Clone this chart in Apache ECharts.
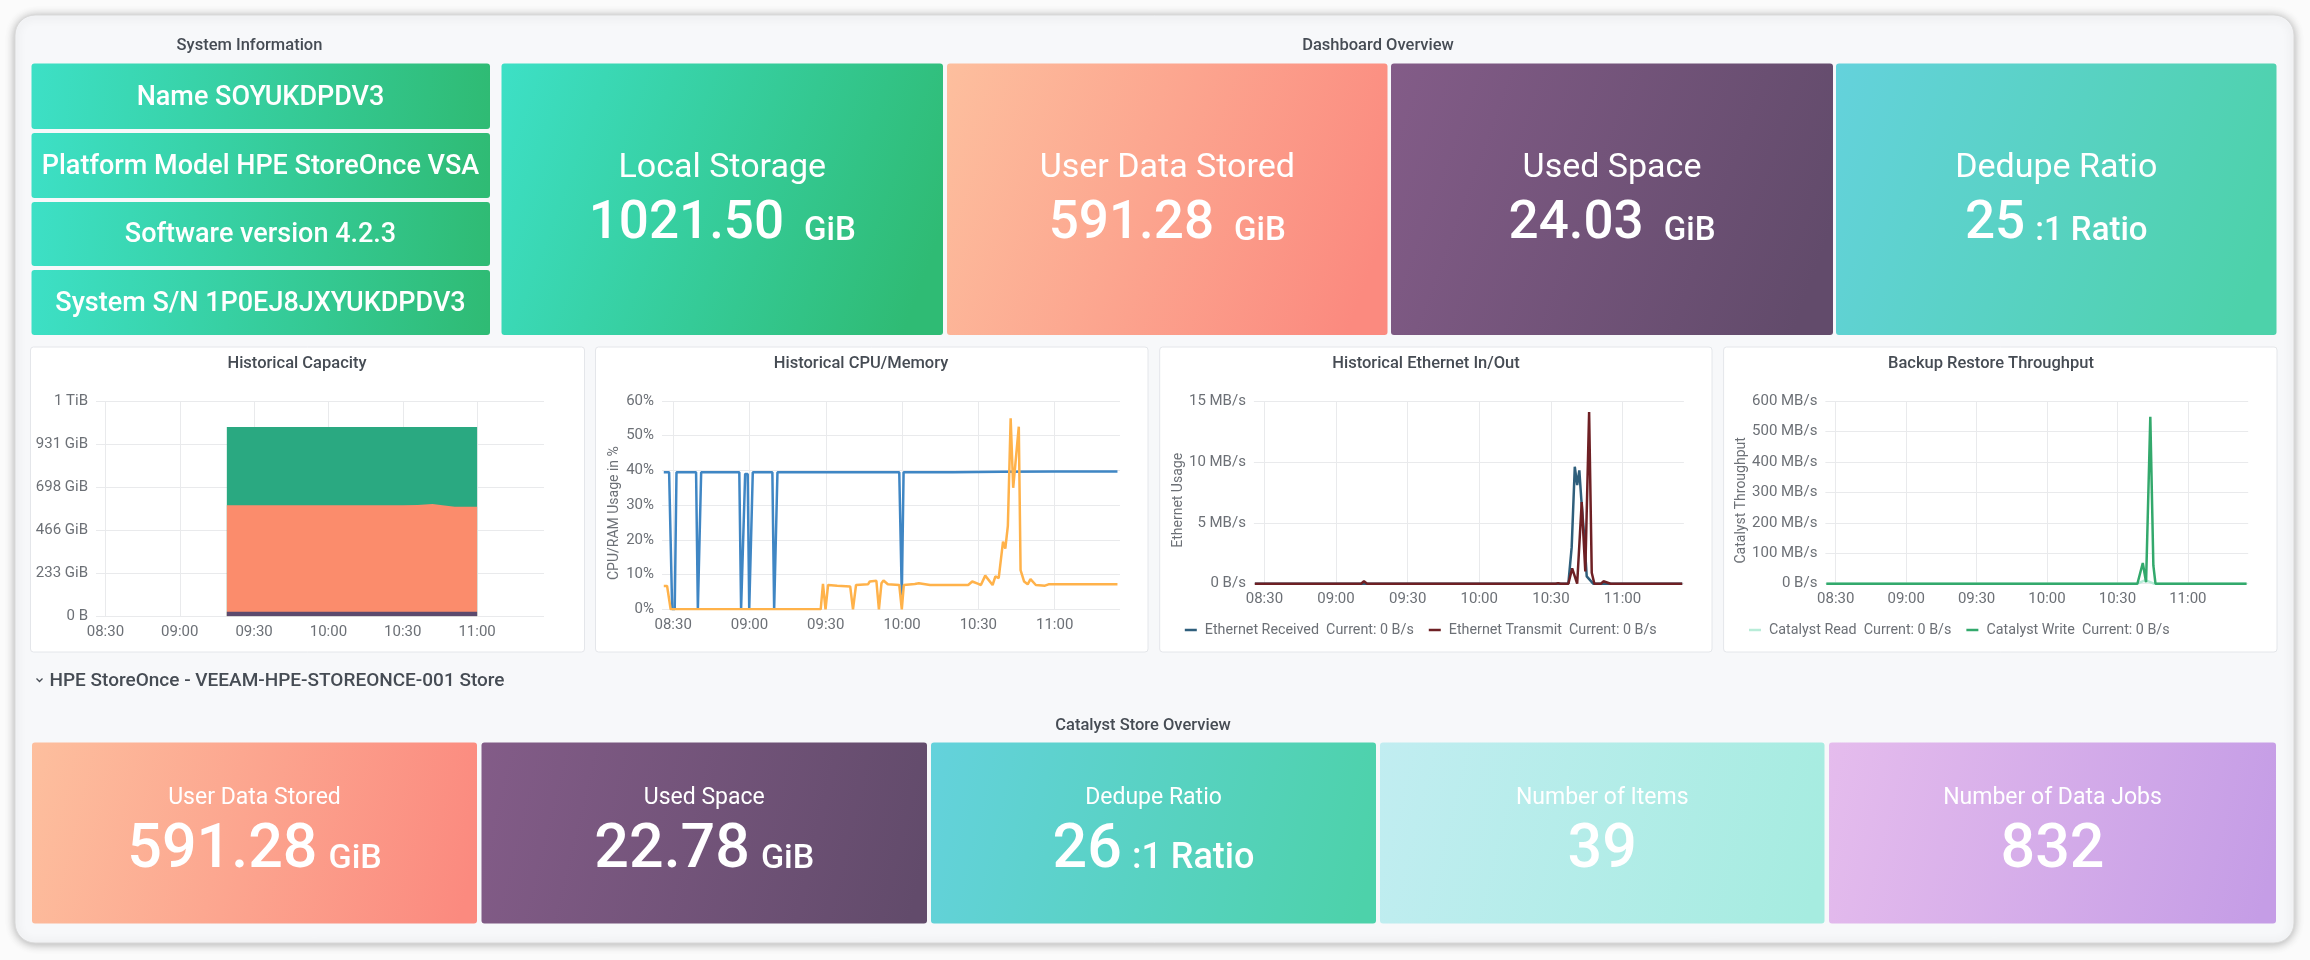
<!DOCTYPE html>
<html><head><meta charset="utf-8">
<style>html,body{margin:0;padding:0;background:#fbfbfb}#c{width:2310px;height:960px}</style>
<script src="https://cdn.jsdelivr.net/npm/echarts@6/dist/echarts.min.js"></script>
</head><body><div id="c"></div>
<script>
// ---- data ----
const sysInfo = ['Name SOYUKDPDV3','Platform Model HPE StoreOnce VSA','Software version 4.2.3','System S/N 1P0EJ8JXYUKDPDV3'];
const dashTitles = ['Local Storage','User Data Stored','Used Space','Dedupe Ratio'];
const dashValues = ['1021.50','591.28','24.03','25'];
const dashUnits  = ['GiB','GiB','GiB',':1 Ratio'];
const storeTitles = ['User Data Stored','Used Space','Dedupe Ratio','Number of Items','Number of Data Jobs'];
const storeValues = ['591.28','22.78','26','39','832'];
const storeUnits  = ['GiB','GiB',':1 Ratio','',''];
const timeTicks = [510,540,570,600,630,660];
const capTicks = ['0 B','233 GiB','466 GiB','698 GiB','931 GiB','1 TiB'];
// minutes since midnight
const capT = [559,570,590,610,630,636,642,646,651,660];
const capUsed = [24,24,24,24,24,24,24,24,24,24];
const capDataTop = [601,601,601,601,601,602,607,601,593,593];
const capTotal = [1023,1023,1023,1023,1023,1023,1023,1023,1023,1023];
const memT = [506.3,508.4,509.6,510.6,511.3,519,519.7,520.4,521,536,536.7,537.3,538.3,538.7,539.3,539.9,540.4,541.3,549,549.7,550.3,551,598.9,599.9,600.6,620,639.4,640,660,684.7];
const memV = [39.5,39.5,0,0,39.5,39.5,0,0,39.5,39.5,0,0,39,39.5,39,0,0,39.5,39.5,0,0,39.5,39.5,4,39.5,39.5,39.6,40,39.7,39.7];
const cpuT = [506.3,507.6,509,568,568.9,569.9,570.9,574.5,579.6,580.7,581.9,586.6,587.3,589.9,590.9,591.9,592.7,594.4,598.9,599.9,600.7,605,606.6,611,617,626,627.6,630,631,632.7,635.6,636.7,638,639.7,640.6,641.6,642.7,643.7,645.9,646.6,648,649.4,650.5,652.6,656.2,657.6,684.7];
const cpuV = [6.7,6.7,0,0,7.3,0,7,6.8,6.6,0,7,7.2,8,8.2,0,7.5,8.3,7.2,7,0,7,7.3,7.5,7,7,7,8,7.3,7,9.7,7,9.5,9,19.5,17.5,24,55,35,52.6,11.3,8,7.2,8.7,7,6.8,7.2,7.2];
const rxT = [506,637.3,638.7,640,641,641.9,642.7,643.9,645,647.7,685];
const rxV = [0,0,3,9.6,8.1,9.3,7,4,0.6,0,0];
const txT = [506,550.5,551.7,553,632,633,634,637.3,638.9,641,642.9,644.4,646,647.1,648.2,651,652,655,685];
const txV = [0,0,0.2,0,0,0.05,0,0,1.26,0,6.7,1,14.1,0.9,0,0,0.2,0,0];
const readT = [506,638.5,641.9,644,645.5,685];
const readV = [0,0,12,5,0,0];
const writeT = [506,638.5,640.8,642.2,644,645.3,646.2,685];
const writeV = [0,0,68,5,548,60,0,0];

// ---- styles / layout ----
const FF = 'Roboto';
const grads = {
  green:['#3de0c6','#2fbb74'], salmon:['#fdbf9e','#fb8a7f'], purple:['#835c88','#624b6b'],
  teal:['#64d2dc','#4dd2aa'], pale:['#c1edf1','#a6ece0'], lilac:['#e5bced','#c59de6']
};
const grad = k => new echarts.graphic.LinearGradient(0,0,1,0.6,[{offset:0,color:grads[k][0]},{offset:1,color:grads[k][1]}]);
const g = [];
const rect = (x,y,w,h,r,style,z=-5) => g.push({type:'rect',silent:true,z,shape:{x,y,width:w,height:h,r},style});
const text = (x,y,t,fs,fw,fill,extra={}) => g.push({type:'text',silent:true,z:20,x,y,style:Object.assign({text:t,fontFamily:FF,fontSize:fs,fontWeight:fw,fill,align:'center',verticalAlign:'middle'},extra)});
const valueText = (cx,cy,v,u,vs,us,gap) => g.push({type:'text',silent:true,z:20,x:cx,y:cy,style:{
  text:u?`{v|${v}}{u|${u}}`:`{v|${v}}`,align:'center',verticalAlign:'middle',fill:'#fff',fontFamily:FF,
  rich:{v:{fontFamily:FF,fontSize:vs,fontWeight:500,fill:'#fff'},u:{fontFamily:FF,fontSize:us,fontWeight:500,fill:'#fff',padding:[14,0,0,gap]}}}});

// page card
rect(15,15,2279,928,20,{fill:'#f7f8fa',stroke:'#d9d9d9',lineWidth:1,shadowBlur:10,shadowColor:'rgba(0,0,0,0.30)',shadowOffsetY:1},-20);

text(249.5,46,'System Information',16.5,500,'#464c54');
text(1378,46,'Dashboard Overview',16.5,500,'#464c54');
text(1143,726,'Catalyst Store Overview',16.5,500,'#464c54');
// section heading chevron + text
g.push({type:'polyline',silent:true,z:20,shape:{points:[[36.5,678.5],[39.5,681.5],[42.5,678.5]]},style:{stroke:'#464c54',lineWidth:1.3,fill:null}});
text(49.5,681,'HPE StoreOnce - VEEAM-HPE-STOREONCE-001 Store',19,500,'#464c54',{align:'left'});

const sysRows = [[63.5,65.5],[133,65],[202,64],[270,65]];
sysInfo.forEach((t,i)=>{
  rect(31.5,sysRows[i][0],458.5,sysRows[i][1],3,{fill:grad('green')});
  text(260.5,sysRows[i][0]+sysRows[i][1]/2+1.5,t,27,500,'#fff');
});
const dashX = [[501.5,441.5],[947,440.5],[1391,442],[1836,440.5]];
const dashC = ['green','salmon','purple','teal'];
dashTitles.forEach((t,i)=>{
  const [x,w]=dashX[i];
  rect(x,63.5,w,271.5,3,{fill:grad(dashC[i])});
  text(x+w/2,168.5,t,34,400,'#fff');
  valueText(x+w/2,225,dashValues[i],dashUnits[i],53,33,dashUnits[i]==='GiB'?20:10);
});
const storeX = [[32,445],[481.5,445.5],[931,445],[1380,444.5],[1829,447]];
const storeC = ['salmon','purple','teal','pale','lilac'];
storeTitles.forEach((t,i)=>{
  const [x,w]=storeX[i];
  rect(x,742.5,w,181,3,{fill:grad(storeC[i])});
  text(x+w/2,798,t,23,400,'#fff');
  valueText(x+w/2,852,storeValues[i],storeUnits[i],61,storeUnits[i]==='GiB'?34:36,storeUnits[i]==='GiB'?11:10);
});

// chart panels
const panels = [
  {x:30.5,w:554,cx:297,grid:[96,401,448,215.3],min:506.2,max:687},
  {x:595.5,w:552.5,cx:861,grid:[662,401,458,208.3],min:505.6,max:685.7},
  {x:1159.7,w:552.3,cx:1426,grid:[1253.9,401,430,182.7],min:505.6,max:685.7},
  {x:1723.6,w:553.4,cx:1991,grid:[1825.4,401,422.8,182.7],min:505.6,max:685.7}
];
const panelTitles = ['Historical Capacity','Historical CPU/Memory','Historical Ethernet In/Out','Backup Restore Throughput'];
panels.forEach(p=>rect(p.x,347,p.w,305,3,{fill:'#fff',stroke:'#e4e6ea',lineWidth:1},-10));

const hhmm = v => { const h=Math.floor(v/60), m=v%60; return String(h).padStart(2,'0')+':'+String(m).padStart(2,'0'); };
const lbl = '#6c7076';
const gridLine = {show:true,lineStyle:{color:'#e9eaec',width:1}};
const xAxisOf = (i) => ({type:'value',gridIndex:i,min:panels[i].min,max:panels[i].max,
  axisLine:{show:false},
  axisTick:{show:false,customValues:timeTicks},
  splitLine:gridLine,
  axisLabel:{customValues:timeTicks,formatter:hhmm,color:lbl,fontFamily:FF,fontSize:15,margin:8,hideOverlap:false}});
const yAxisOf = (i,max,interval,fmt,name,gap) => ({type:'value',gridIndex:i,min:0,max,interval,
  name,nameLocation:'middle',nameGap:gap,nameTextStyle:{color:lbl,fontFamily:FF,fontSize:14,padding:[0,16,0,0]},
  axisLine:{show:false},axisTick:{show:false},splitLine:gridLine,
  axisLabel:{formatter:fmt,color:lbl,fontFamily:FF,fontSize:15,margin:8}});
const zip=(t,v)=>t.map((x,i)=>[x,v[i]]);
const line=(name,i,t,v,color,width=2.5)=>({type:'line',name,xAxisIndex:i,yAxisIndex:i,data:zip(t,v),symbol:'none',showSymbol:false,
  lineStyle:{color,width},itemStyle:{color},smooth:false,animation:false});
const area=(name,t,v,color)=>({type:'line',name,xAxisIndex:0,yAxisIndex:0,data:zip(t,v),symbol:'none',showSymbol:false,
  lineStyle:{width:0,color},areaStyle:{color,opacity:1},itemStyle:{color},animation:false});
const suffix = n => n+'  Current: 0 B/s';
const leg=(left,names)=>({left,top:623,padding:0,orient:'horizontal',itemWidth:12,itemHeight:2.5,itemGap:15,icon:'rect',
  data:names,formatter:suffix,selectedMode:false,textStyle:{color:lbl,fontFamily:FF,fontSize:14.3,padding:[0,0,0,3]}});

const option = {
  animation:false,
  backgroundColor:'#fbfbfb',
  graphic:{elements:g},
  title:panels.map((p,i)=>({text:panelTitles[i],left:p.cx,top:355,textAlign:'center',
    textStyle:{fontFamily:FF,fontSize:16.5,fontWeight:500,color:'#464c54'},padding:0})),
  legend:[leg(1184.8,['Ethernet Received','Ethernet Transmit']),leg(1749,['Catalyst Read','Catalyst Write'])],
  grid:panels.map(p=>({left:p.grid[0],top:p.grid[1],width:p.grid[2],height:p.grid[3],containLabel:false})),
  xAxis:[0,1,2,3].map(xAxisOf),
  yAxis:[
    yAxisOf(0,1164.15,232.83,(v,i)=>capTicks[i],'',0),
    yAxisOf(1,60,10,'{value}%','CPU/RAM Usage in %',41),
    yAxisOf(2,15,5,v=>v===0?'0 B/s':v+' MB/s','Ethernet Usage',68),
    yAxisOf(3,600,100,v=>v===0?'0 B/s':v+' MB/s','Catalyst Throughput',76)
  ],
  series:[
    area('Local Storage',capT,capTotal,'#2aa981'),
    area('User Data',capT,capDataTop,'#fb8c6c'),
    area('Used',capT,capUsed,'#5c4a6e'),
    line('Memory',1,memT,memV,'#3f86c4'),
    line('CPU',1,cpuT,cpuV,'#ffb24a'),
    line('Ethernet Received',2,rxT,rxV,'#2f5f7c'),
    line('Ethernet Transmit',2,txT,txV,'#6e2024'),
    line('Catalyst Read',3,readT,readV,'#b8ecd8'),
    line('Catalyst Write',3,writeT,writeV,'#33a96c')
  ]
};
const chart = echarts.init(document.getElementById('c'),null,{width:2310,height:960});
chart.setOption(option);
</script></body></html>
